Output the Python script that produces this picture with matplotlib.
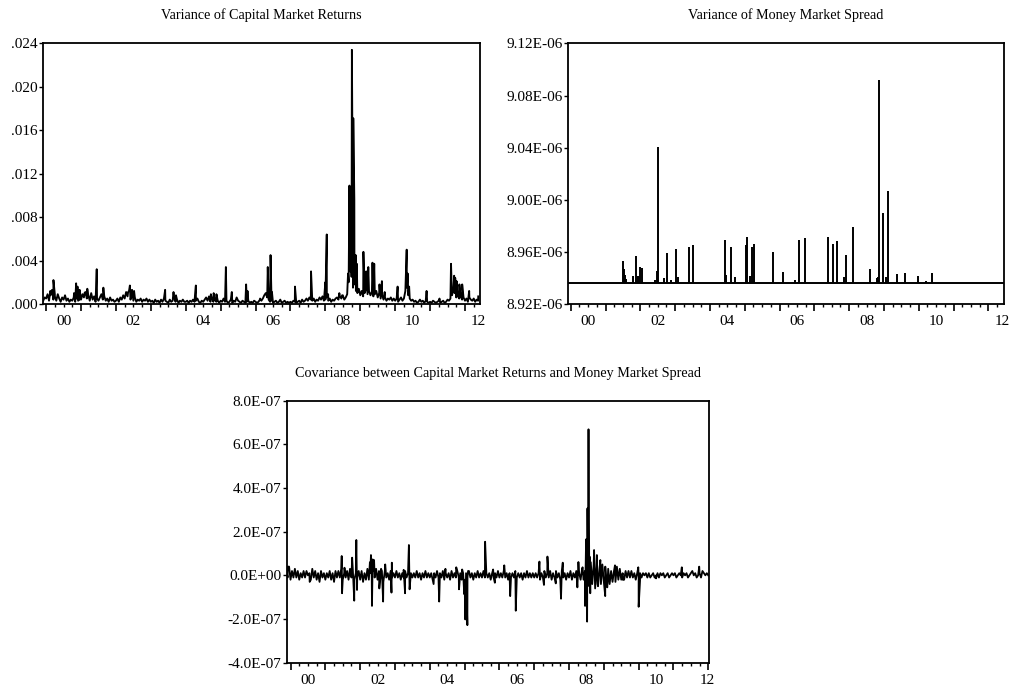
import numpy as np
import matplotlib
matplotlib.use("Agg")
import matplotlib.pyplot as plt
from matplotlib.ticker import FixedLocator, FuncFormatter, MultipleLocator

plt.rcParams['font.family'] = ['Liberation Serif', 'DejaVu Serif']

# ---------------- Panel 1: Variance of capital market returns ----------------
# semi-monthly background level, units of 1e-4, starting 1999.917
cmr_base_start = 1999.917
cmr_base_1999 = [3, 6]
cmr_base_2000 = [5, 9, 3, 8, 12, 4, 7, 3, 9, 5, 2, 6, 4, 8, 3, 5, 2, 4, 3, 6, 2, 5, 3, 4]
cmr_base_2001 = [4, 9, 6, 11, 5, 8, 3, 10, 4, 7, 2, 5, 3, 6, 9, 4, 7, 3, 5, 2, 6, 3, 4, 2]
cmr_base_2002 = [3, 5, 2, 6, 4, 8, 5, 11, 7, 12, 4, 9, 3, 6, 2, 4, 3, 5, 2, 4, 3, 5, 2, 4]
cmr_base_2003 = [2, 3, 1, 4, 2, 3, 1, 4, 2, 5, 3, 2, 1, 4, 2, 3, 6, 2, 4, 1, 3, 2, 4, 2]
cmr_base_2004 = [2, 3, 1, 3, 2, 4, 2, 3, 5, 2, 1, 3, 2, 4, 6, 3, 7, 2, 5, 2, 4, 2, 3, 1]
cmr_base_2005 = [3, 2, 5, 2, 3, 1, 2, 4, 1, 3, 2, 6, 3, 2, 1, 3, 2, 1, 2, 3, 1, 2, 1, 3]
cmr_base_2006 = [2, 1, 2, 4, 3, 5, 8, 10, 6, 4, 2, 3, 1, 2, 3, 1, 2, 4, 1, 2, 3, 1, 2, 1]
cmr_base_2007 = [2, 1, 3, 2, 1, 2, 3, 1, 4, 2, 3, 5, 3, 6, 4, 3, 5, 2, 4, 3, 6, 4, 7, 3]
cmr_base_2008 = [4, 6, 3, 5, 2, 4, 3, 5, 6, 4, 7, 5, 8, 4, 6, 9, 20, 30, 25, 15, 18, 12, 10, 14]
cmr_base_2009 = [8, 12, 7, 10, 14, 9, 12, 8, 11, 7, 9, 12, 6, 10, 5, 8, 4, 6, 3, 5, 4, 6, 3, 5]
cmr_base_2010 = [3, 5, 2, 4, 6, 3, 5, 12, 15, 8, 5, 3, 4, 2, 3, 1, 2, 4, 2, 3, 1, 3, 2, 1]
cmr_base_2011 = [2, 1, 3, 2, 1, 2, 3, 1, 2, 3, 1, 2, 4, 3, 5, 8, 12, 10, 6, 8, 5, 7, 4, 6]
cmr_base_2012 = [3, 5, 2, 6, 4, 3, 5, 2, 4, 3]

cmr_spike_dates = [2000.12, 2000.17, 2000.21, 2000.25, 2000.80, 2000.86, 2000.90, 2000.96,
                   2001.10, 2001.18, 2001.45, 2001.64, 2002.35, 2002.40, 2002.46, 2002.52,
                   2003.41, 2003.65, 2003.72, 2004.29, 2004.72, 2004.80, 2004.88,
                   2005.15, 2005.32, 2005.73, 2005.77, 2006.13, 2006.35, 2006.43, 2006.47,
                   2007.13, 2007.59, 2008.00, 2008.04, 2008.08, 2008.40, 2008.48,
                   2008.65, 2008.69, 2008.72, 2008.76, 2008.78, 2008.80, 2008.83, 2008.87, 2008.90,
                   2009.09, 2009.17, 2009.23, 2009.35, 2009.40, 2009.55, 2009.62, 2009.70,
                   2010.07, 2010.33, 2010.36, 2010.40, 2010.90, 2011.27,
                   2011.60, 2011.69, 2011.72, 2011.76, 2011.84, 2011.92, 2012.12, 2012.38]
cmr_spike_vals = [0.0012, 0.0013, 0.0022, 0.0009, 0.0010, 0.0019, 0.0016, 0.0013,
                  0.0010, 0.0014, 0.0032, 0.0015, 0.0011, 0.0017, 0.0013, 0.0012,
                  0.0013, 0.0011, 0.0008, 0.0017, 0.0009, 0.0010, 0.0009,
                  0.0034, 0.0011, 0.0018, 0.0012, 0.0005, 0.0034, 0.0045, 0.0011,
                  0.0016, 0.0030, 0.0020, 0.0064, 0.0009, 0.0010, 0.0008,
                  0.0028, 0.0109, 0.0070, 0.0234, 0.0120, 0.0171, 0.0096, 0.0045, 0.0037,
                  0.0048, 0.0030, 0.0034, 0.0038, 0.0037, 0.0018, 0.0021, 0.0011,
                  0.0016, 0.0050, 0.0028, 0.0016, 0.0012, 0.0005,
                  0.0037, 0.0026, 0.0024, 0.0021, 0.0018, 0.0018, 0.0012, 0.0007]

# ---------------- Panel 2: Variance of money market spread ----------------
mms_base_level = 8.9366e-6
mms_spike_dates = [2001.49, 2001.52, 2001.55, 2001.58, 2001.78, 2001.87, 2001.92, 2001.99, 2002.04,
                   2002.43, 2002.47, 2002.51, 2002.68, 2002.77, 2002.88, 2003.02, 2003.08,
                   2003.41, 2003.52, 2004.43, 2004.46, 2004.61, 2004.73, 2005.03, 2005.05,
                   2005.15, 2005.20, 2005.27, 2005.80, 2006.11, 2006.44, 2006.55, 2006.72,
                   2007.40, 2007.55, 2007.66, 2007.86, 2007.90, 2008.10, 2008.61, 2008.79,
                   2008.83, 2008.87, 2008.98, 2009.05, 2009.11, 2009.37, 2009.61, 2009.97,
                   2010.20, 2010.37]
mms_spike_vals_e6 = [8.9532, 8.9468, 8.9425, 8.9390, 8.9417, 8.9573, 8.9417, 8.9484, 8.9476,
                     8.9386, 8.9458, 9.0408, 8.9404, 8.9591, 8.9386, 8.9627, 8.9412,
                     8.9642, 8.9655, 8.9693, 8.9425, 8.9637, 8.9407, 8.9655, 8.9718,
                     8.9417, 8.9642, 8.9662, 8.9598, 8.9450, 8.9386, 8.9693, 8.9711,
                     8.9718, 8.9662, 8.9688, 8.9407, 8.9578, 8.9795, 8.9468, 8.9400,
                     8.9412, 9.0919, 8.9897, 8.9407, 9.0071, 8.9432, 8.9438, 8.9417,
                     8.9380, 8.9443]

# ---------------- Panel 3: Covariance ----------------
# semi-monthly background level, units of 1e-8, starting 1999.875
cov_base_start = 1999.875
cov_base_1999 = [3, -1, 4]
cov_base_2000 = [-2, 2, -1, 3, -1, 2, -2, 1, -1, 2, -1, 2, 0, 1, -2, 3, -1, 2, -2, 1, -3, 2, -1, 1]
cov_base_2001 = [-2, 1, -1, 2, -2, 1, -3, 2, -1, 2, -1, 3, -2, 1, -1, 2, -2, 3, -1, 2, -2, 1, -1, 2]
cov_base_2002 = [-2, 2, -3, 1, -2, 3, -2, 1, -1, 2, -1, 3, -2, 2, -1, 2, -3, 2, -1, 1, -2, 2, -1, 1]
cov_base_2003 = [-1, 2, -1, 1, -2, 1, -1, 2, -1, 1, -2, 1, -1, 1, -1, 2, -1, 1, -2, 1, -1, 2, -1, 1]
cov_base_2004 = [-1, 1, -2, 1, -1, 2, -1, 1, -1, 2, -2, 1, -1, 1, -2, 2, -1, 1, -1, 2, -1, 1, -2, 1]
cov_base_2005 = [-2, 1, -1, 2, -1, 1, -2, 1, -1, 2, -1, 1, -1, 2, -1, 1, -1, 1, -2, 1, -1, 1, -1, 2]
cov_base_2006 = [-1, 1, -1, 2, -1, 1, -2, 1, -1, 1, -1, 2, -1, 1, -1, 1, -2, 1, -1, 2, -1, 1, -1, 1]
cov_base_2007 = [-1, 1, -1, 1, -2, 1, -1, 2, -1, 1, -1, 2, -2, 1, -1, 2, -1, 1, -2, 2, -1, 1, -2, 1]
cov_base_2008 = [-1, 2, -2, 1, -1, 2, -2, 1, -2, 3, -2, 2, -3, 4, -5, 6, -4, 5, -6, 4, -5, 3, -4, 5]
cov_base_2009 = [-3, 4, -5, 3, -4, 2, -3, 2, -3, 4, -2, 3, -2, 1, -2, 2, -1, 2, -1, 2, -1, 1, -2, 1]
cov_base_2010 = [-1, 1, -1, 1, 0, 1, -1, 1, -1, 0, 1, -1, 0, 1, -1, 1, 0, 1, -1, 0, 1, -1, 0, 1]
cov_base_2011 = [0, 1, -1, 0, 1, 0, -1, 1, 0, 1, -1, 0, 1, 2, 0, 1, -1, 0, 1, -1, 2, 1, 0, 1]
cov_base_2012 = [0]

cov_spike_dates = [1999.92, 2000.55, 2001.47, 2001.48, 2001.55, 2001.77, 2001.83, 2001.89, 2001.91,
                   2002.28, 2002.31, 2002.34, 2002.36, 2002.40, 2002.55, 2002.60, 2002.66, 2002.72,
                   2002.90, 2002.91, 2003.25, 2003.29, 2003.40, 2003.42, 2004.11, 2004.27, 2004.45,
                   2004.76, 2004.84, 2004.93, 2004.99, 2005.02, 2005.08, 2005.10, 2005.59, 2005.82,
                   2005.87, 2006.14, 2006.31, 2006.47, 2007.15, 2007.28, 2007.38, 2007.62, 2007.77,
                   2007.82, 2008.24, 2008.27, 2008.39, 2008.46, 2008.49, 2008.52, 2008.53, 2008.56,
                   2008.59, 2008.61, 2008.72, 2008.80, 2008.82, 2008.90, 2009.04, 2009.10, 2009.32,
                   2009.55, 2009.99, 2010.00, 2010.04, 2010.50, 2011.24, 2011.74]
cov_spike_vals_e7 = [0.4, -0.3, 0.886, -0.82, 0.35, 0.81, -1.16, 1.62, -0.67,
                     0.6, 0.93, -1.4, 0.73, 0.7, -0.6, 0.3, -1.2, 0.5,
                     -0.79, 0.58, 0.25, -0.82, 1.39, -0.64, -0.4, -1.2, 0.3,
                     0.37, -0.64, 0.27, -0.86, -2.02, -2.28, 0.2, 1.54, 0.27,
                     -0.34, 0.46, -0.95, -1.62, 0.63, -0.44, 0.86, -0.37, -1.07,
                     0.58, -0.55, 0.61, 0.37, -1.4, 1.65, -2.12, 3.07, 6.69,
                     0.86, -0.82, 1.16, 0.93, -0.4, 0.7, -0.95, -0.55, 0.46,
                     -0.21, 0.37, -1.44, -0.25, -0.14, 0.37, 0.4]

year_labels = ['00', '02', '04', '06', '08', '10', '12']
label_years = [2000, 2002, 2004, 2006, 2008, 2010, 2012]

TICK_FS = 11
TITLE_FS = 10.2


def merged_series(start, base_rows, scale, sp_dates, sp_vals):
    base = np.concatenate([np.asarray(r, float) for r in base_rows]) * scale
    t = start + np.arange(len(base)) / 24.0
    tt = np.concatenate([t, np.asarray(sp_dates, float)])
    vv = np.concatenate([base, np.asarray(sp_vals, float)])
    o = np.argsort(tt, kind='stable')
    return tt[o], vv[o]


def style_axes(ax, xlim, ylim, ystep, yfmt):
    ax.set_xlim(*xlim)
    ax.set_ylim(*ylim)
    for s in ['top', 'right', 'bottom', 'left']:
        ax.spines[s].set_linewidth(1.3)
    ax.yaxis.set_major_locator(MultipleLocator(ystep))
    ax.yaxis.set_major_formatter(FuncFormatter(yfmt))
    ax.tick_params(axis='y', direction='out', length=3, width=1, labelsize=TICK_FS, pad=1,
                   left=True, right=False)
    years = np.arange(2000, 2013)
    ax.xaxis.set_major_locator(FixedLocator([y for y in years if xlim[0] <= y <= xlim[1]]))
    quarters = [y + q / 4 for y in range(1999, 2013) for q in (1, 2, 3)]
    ax.xaxis.set_minor_locator(FixedLocator([q for q in quarters if xlim[0] <= q <= xlim[1]]))
    ax.tick_params(axis='x', which='major', direction='out', length=5, width=1.2,
                   labelbottom=False, top=False)
    ax.tick_params(axis='x', which='minor', direction='out', length=2.5, width=1, top=False)
    for lab, yr in zip(year_labels, label_years):
        pos = min(yr + 0.5, xlim[1] - 0.05)
        ax.text(pos, -0.043, lab, transform=ax.get_xaxis_transform(), ha='center',
                va='top', fontsize=TICK_FS)


fig = plt.figure(figsize=(10.12, 6.91), dpi=100)

# Panel 1
ax1 = fig.add_axes([0.0428, 0.5601, 0.4315, 0.3772])
t1, v1 = merged_series(cmr_base_start,
                       [cmr_base_1999, cmr_base_2000, cmr_base_2001, cmr_base_2002, cmr_base_2003,
                        cmr_base_2004, cmr_base_2005, cmr_base_2006, cmr_base_2007, cmr_base_2008,
                        cmr_base_2009, cmr_base_2010, cmr_base_2011, cmr_base_2012],
                       1e-4, cmr_spike_dates, cmr_spike_vals)
ax1.plot(t1, v1, color='black', lw=1.35)
style_axes(ax1, (1999.92, 2012.43), (0, 0.024), 0.004,
           lambda v, p: ('%.3f' % v)[1:] if v >= 0 else '%.3f' % v)
fig.text(0.2586, 1 - 15 / 691, 'Variance of Capital Market Returns', ha='center', va='center',
         fontsize=TITLE_FS)

# Panel 2
ax2 = fig.add_axes([0.5616, 0.5597, 0.4305, 0.3776])
ax2.hlines(mms_base_level, 1999.93, 2012.45, color='black', lw=1.4)
ax2.vlines(mms_spike_dates, mms_base_level, np.asarray(mms_spike_vals_e6) * 1e-6,
           color='black', lw=1.4)
style_axes(ax2, (1999.93, 2012.45), (8.92e-6, 9.12e-6), 0.04e-6,
           lambda v, p: '%.2E' % v)
fig.text(0.7768, 1 - 15 / 691, 'Variance of Money Market Spread', ha='center', va='center',
         fontsize=TITLE_FS)

# Panel 3
ax3 = fig.add_axes([0.2833, 0.0410, 0.4176, 0.3791])
t3, v3 = merged_series(cov_base_start,
                       [cov_base_1999, cov_base_2000, cov_base_2001, cov_base_2002, cov_base_2003,
                        cov_base_2004, cov_base_2005, cov_base_2006, cov_base_2007, cov_base_2008,
                        cov_base_2009, cov_base_2010, cov_base_2011, cov_base_2012],
                       1e-8, cov_spike_dates, np.asarray(cov_spike_vals_e7) * 1e-7)
ax3.plot(t3, v3, color='black', lw=1.3)
style_axes(ax3, (1999.89, 2012.03), (-4e-7, 8e-7), 2e-7,
           lambda v, p: '%.1E' % (0.0 if abs(v) < 1e-12 else v))
fig.text(0.4921, 1 - 373 / 691, 'Covariance between Capital Market Returns and Money Market Spread',
         ha='center', va='center', fontsize=TITLE_FS)

fig.savefig('out.png', dpi=100)
